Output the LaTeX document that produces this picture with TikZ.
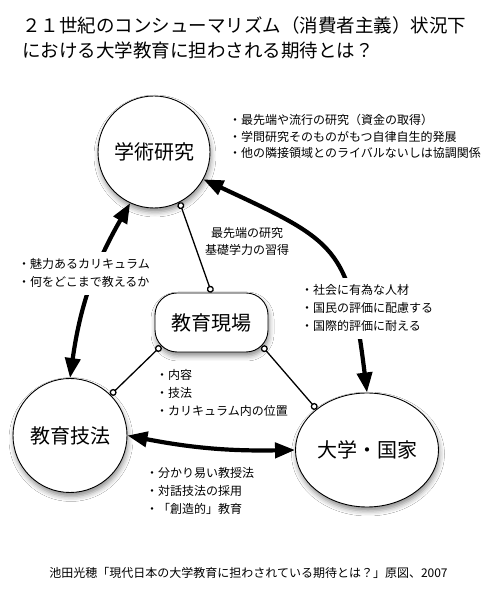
\documentclass[tikz,border=0pt]{standalone}
\usepackage{fontspec}
\setmainfont{Noto Sans CJK JP}
\usetikzlibrary{arrows.meta,shapes.geometric,shadows.blur}

\begin{document}
\begin{tikzpicture}[x=1pt, y=1pt,
  topic/.style={draw=black, line width=0.9pt, fill=white, inner sep=0pt,
    blur shadow={shadow xshift=1pt, shadow yshift=-4pt,
      shadow blur radius=5pt, shadow opacity=45},
    font=\fontsize{20}{24}\selectfont},
  notetext/.style={inner sep=0pt, align=left, anchor=north west,
    font=\fontsize{12}{18}\selectfont},
  covernote/.style={notetext, fill=white, inner sep=7pt},
  bigarrow/.style={{Triangle[length=20pt,width=15pt]}-{Triangle[length=20pt,width=15pt]},
    line width=4.2pt},
  pinline/.style={{Circle[length=7pt,fill=white]}-{Circle[length=7pt,fill=white]},
    line width=1.3pt}
]
\path[use as bounding box, fill=white] (0,0) rectangle (492,607);
\node[anchor=base west, inner sep=0pt, font=\fontsize{18.5}{25}\selectfont] (title-a) at (22,574) {２１世紀のコンシューマリズム（消費者主義）状況下};
\node[anchor=base west, inner sep=0pt, font=\fontsize{18.5}{25}\selectfont] (title-b) at (22,549) {における大学教育に担わされる期待とは？};
\node[topic, circle, minimum size=112pt] (research) at (154,455) {学術研究};
\node[topic, circle, minimum size=114pt] (method) at (70,171.5) {教育技法};
\node[topic, ellipse, minimum width=143pt, minimum height=114pt] (nation) at (367,157) {大学・国家};
\node[topic, rounded corners=22pt, minimum width=113pt, minimum height=59pt] (field) at (211.5,284.5) {教育現場};
% thin links from the teaching site
\draw[pinline] (research.-63) -- (field.north);
\draw[pinline] ([shift={(6.4pt,6.4pt)}]field.south west) -- (method.45);
\draw[pinline] ([shift={(-6.4pt,6.4pt)}]field.south east) -- (nation.141);
% thick two-way arrows
\draw[bigarrow] (research.-115) to[bend right=11] (method.north);
\draw[bigarrow] (research.-29) to[out=-25, in=97, looseness=1.4] (nation.north);
\draw[bigarrow] (method.east) to[bend right=6] (nation.west);
% notes
\node[notetext, font=\fontsize{12}{16.5}\selectfont] (research-notes) at (229,492.5) {・最先端や流行の研究（資金の取得）\\・学問研究そのものがもつ自律自生的発展\\・他の隣接領域とのライバルないしは協調関係};
\node[notetext, align=center, anchor=north, font=\fontsize{12}{17}\selectfont] (field-link) at (247,379.5) {最先端の研究\\基礎学力の習得};
\node[covernote] (method-notes) at (11,355.4) {・魅力あるカリキュラム\\・何をどこまで教えるか};
\node[covernote] (nation-notes) at (294,329.4) {・社会に有為な人材\\・国民の評価に配慮する\\・国際的評価に耐える};
\node[notetext] (field-notes) at (156,237.4) {・内容\\・技法\\・カリキュラム内の位置};
\node[notetext] (pair-notes) at (146,139.4) {・分かり易い教授法\\・対話技法の採用\\・「創造的」教育};
\node[font=\fontsize{12}{14}\selectfont, inner sep=0pt] (source) at (248.5,34) {池田光穂「現代日本の大学教育に担わされている期待とは？」原図、2007};
\end{tikzpicture}
\end{document}
